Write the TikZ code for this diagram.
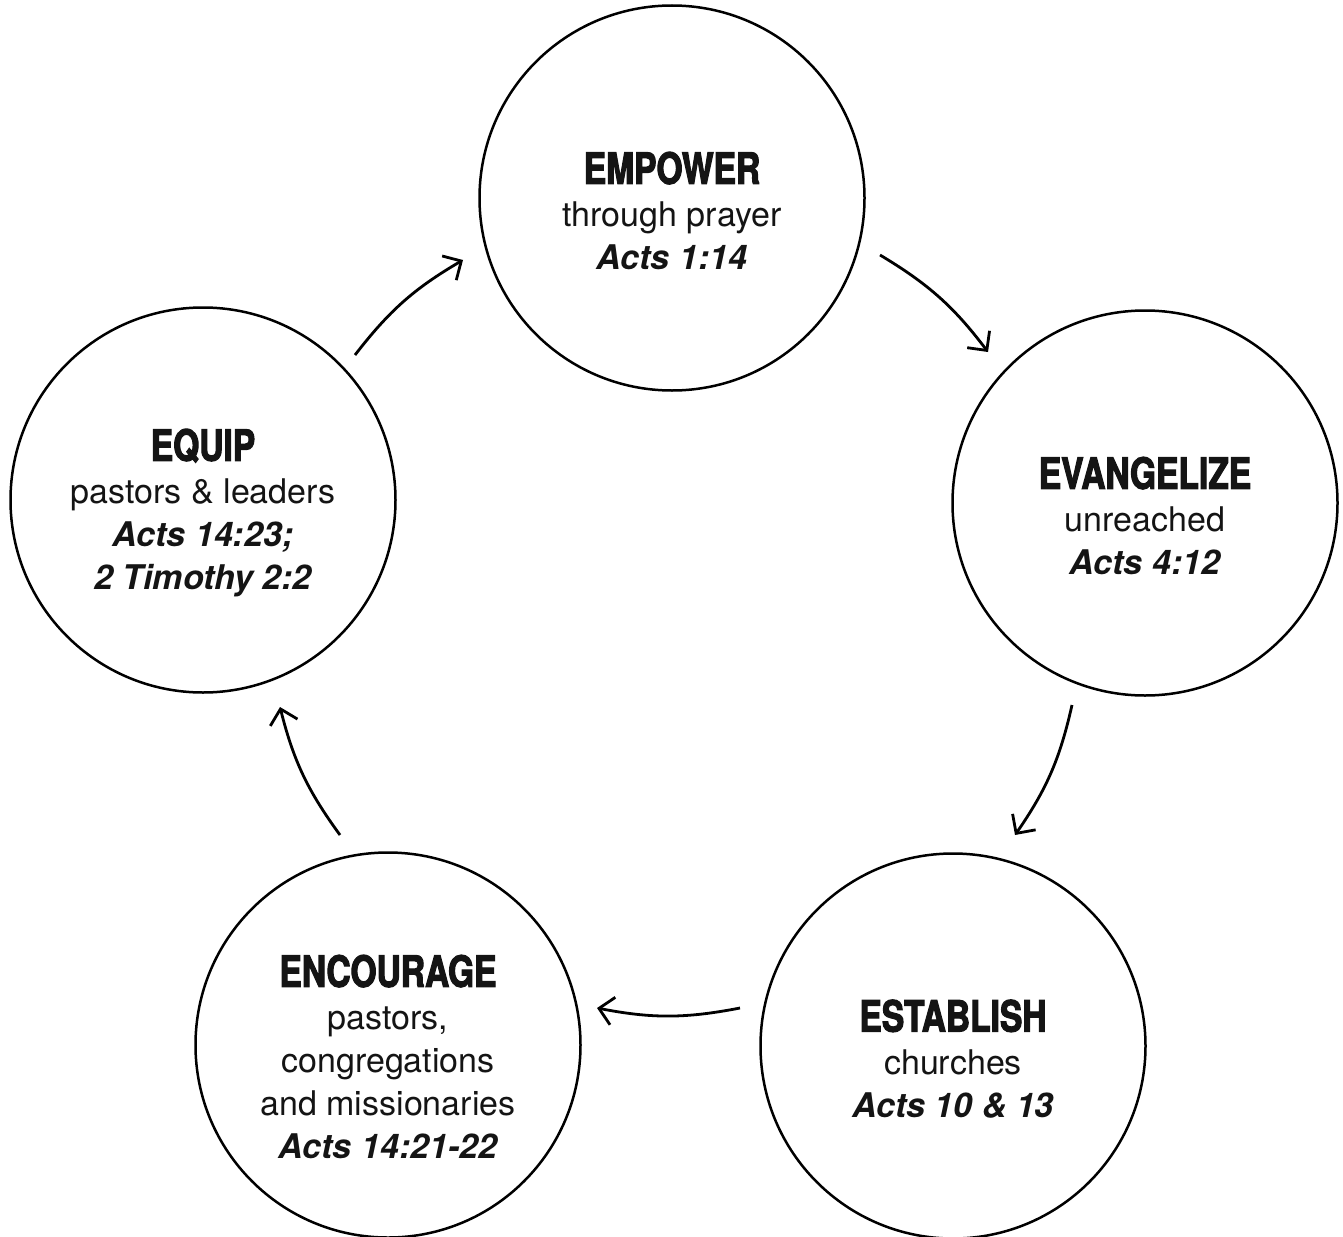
\documentclass[tikz,border=0pt]{standalone}
\usepackage{fontspec}
\setmainfont{TeX Gyre Heros}
\newfontfamily\titlefont{TeX Gyre Heros}[FakeStretch=0.78, BoldFeatures={FakeBold=2.6}]
\usetikzlibrary{arrows.meta}
\tikzset{
  bubble/.style={circle, draw=black, line width=2.5pt, minimum size=385pt, inner sep=0pt},
  txt/.style={align=center, inner sep=0pt, font=\fontsize{34}{43}\selectfont, text=black!92},
  cyc/.style={line width=2.8pt, -{Straight Barb[length=14pt,width=28pt,line width=2.8pt]}, bend left=11}
}
\newcommand{\ttl}[1]{{\titlefont\bfseries\fontsize{43}{43}\selectfont #1}}
\newcommand{\rf}[1]{{\bfseries\itshape #1}}
\begin{document}
\begin{tikzpicture}[x=1pt,y=-1pt]
\useasboundingbox (0,0) rectangle (1343,1236);
\node[bubble] (emp) at (672,198) {};
\node[bubble] (eva) at (1145,503) {};
\node[bubble] (est) at (953,1046) {};
\node[bubble] (enc) at (388,1045) {};
\node[bubble] (equ) at (203,500) {};
\node[txt] (empT) at ([yshift=-13pt]emp.center) {\ttl{EMPOWER}\\through prayer\\\rf{Acts 1:14}};
\node[txt] (evaT) at ([yshift=-13pt]eva.center) {\ttl{EVANGELIZE}\\unreached\\\rf{Acts 4:12}};
\node[txt] (estT) at ([yshift=-13pt]est.center) {\ttl{ESTABLISH}\\churches\\\rf{Acts 10 \& 13}};
\node[txt] (encT) at ([yshift=-12pt]enc.center) {\ttl{ENCOURAGE}\\pastors,\\congregations\\and missionaries\\\rf{Acts 14:21-22}};
\node[txt] (equT) at ([yshift=-13pt]equ.center) {\ttl{EQUIP}\\pastors \& leaders\\\rf{Acts 14:23;}\\\rf{2 Timothy 2:2}};
\coordinate (a1s) at (355,355);
\coordinate (a1e) at (463,260);
\coordinate (a2s) at (880,255);
\coordinate (a2e) at (988,352);
\coordinate (a3s) at (1072,705);
\coordinate (a3e) at (1015,835);
\coordinate (a4s) at (740,1008);
\coordinate (a4e) at (597,1008);
\coordinate (a5s) at (340,835);
\coordinate (a5e) at (280,707);
\draw[cyc] (a1s) to (a1e);
\draw[cyc] (a2s) to (a2e);
\draw[cyc] (a3s) to (a3e);
\draw[cyc] (a4s) to (a4e);
\draw[cyc] (a5s) to (a5e);
\end{tikzpicture}
\end{document}
